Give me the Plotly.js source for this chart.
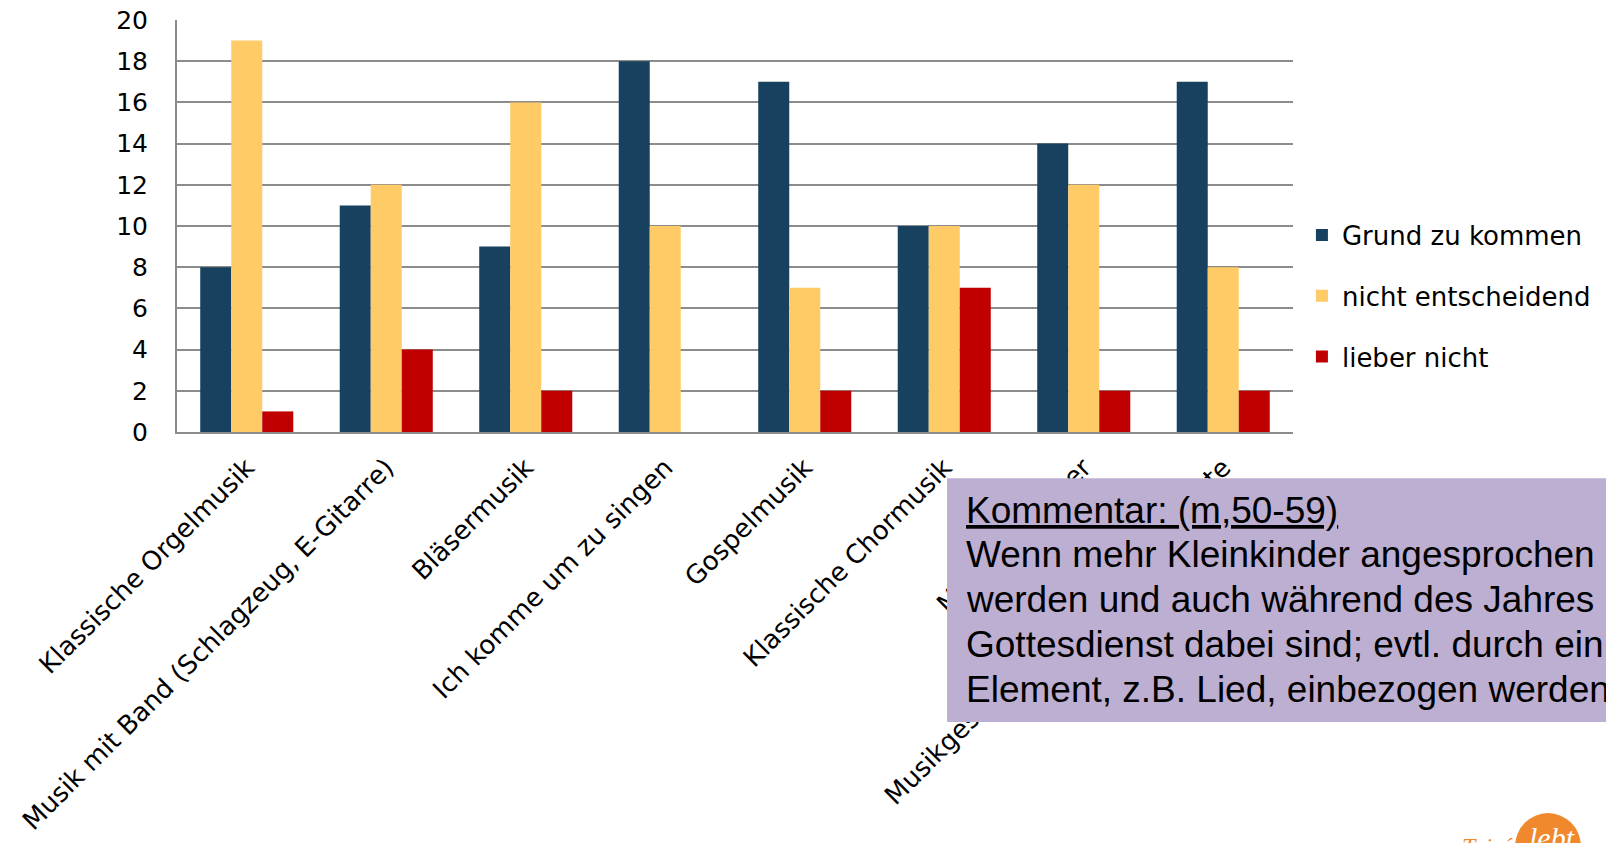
<!DOCTYPE html>
<html>
<head>
<meta charset="utf-8">
<script src="https://cdn.plot.ly/plotly-3.0.1.min.js"></script>
<style>
  html, body { margin: 0; padding: 0; overflow: hidden; background: #ffffff; }
  #chart { width: 1606px; height: 843px; }
</style>
</head>
<body>
<div id="chart"></div>
<script>
const categories = [
  "Klassische Orgelmusik",
  "Musik mit Band (Schlagzeug, E-Gitarre)",
  "Bläsermusik",
  "Ich komme um zu singen",
  "Gospelmusik",
  "Klassische Chormusik",
  "Musical-Theater",
  "Musikgestaltete Abendgottesdienste"
];
const seriesNames = ["Grund zu kommen", "nicht entscheidend", "lieber nicht"];
const grundZuKommen     = [8, 11, 9, 18, 17, 10, 14, 17];
const nichtEntscheidend = [19, 12, 16, 10, 7, 10, 12, 8];
const lieberNicht       = [1, 4, 2, 0, 2, 7, 2, 2];
const yTickValues = [0, 2, 4, 6, 8, 10, 12, 14, 16, 18, 20];
const commentTitle = "Kommentar: (m,50-59)";
const commentLines = [
  "Wenn mehr Kleinkinder angesprochen",
  "werden und auch während des Jahres",
  "Gottesdienst dabei sind; evtl. durch ein",
  "Element, z.B. Lied, einbezogen werden."
];

const colors = ["#17415E", "#FFCB66", "#C00000"];
const values = [grundZuKommen, nichtEntscheidend, lieberNicht];

const traces = values.map((v, i) => ({
  type: "bar",
  name: seriesNames[i],
  x: categories,
  y: v,
  legendgroup: "g" + i,
  marker: { color: colors[i], line: { width: 0 } },
  hoverinfo: "x+y+name"
}));

const axisFamily = "Verdana, 'DejaVu Sans', sans-serif";

// comment box text: one annotation per line for exact line spacing
const commentAll = ["<u>" + commentTitle + "</u>"].concat(commentLines);
const lineStep = 0.1085;
const commentAnnotations = commentAll.map((t, i) => ({
  xref: "paper", yref: "paper",
  x: 0.7055, y: -0.190 - i * lineStep,
  xanchor: "left", yanchor: "middle",
  align: "left", showarrow: false,
  text: t,
  font: { family: "Arial, 'Liberation Sans', sans-serif", size: 37, color: "#000000" }
}));

const layout = {
  width: 1606,
  height: 843,
  margin: { l: 177, r: 313, t: 20, b: 411, autoexpand: false },
  paper_bgcolor: "#ffffff",
  plot_bgcolor: "#ffffff",
  barmode: "group",
  bargap: 0.333,
  bargroupgap: 0,
  showlegend: true,
  legend: {
    x: 1.008, xanchor: "left",
    y: 0.535, yanchor: "top",
    font: { family: axisFamily, size: 26, color: "#000000" },
    tracegroupgap: 24,
    bgcolor: "rgba(0,0,0,0)"
  },
  xaxis: {
    type: "category",
    tickangle: -45,
    tickfont: { family: axisFamily, size: 26, color: "#000000" },
    showgrid: false,
    showline: true,
    linecolor: "#8c8c8c",
    linewidth: 2,
    ticks: "",
    ticklabelstandoff: 8,
    automargin: false
  },
  yaxis: {
    range: [0, 20],
    tickvals: yTickValues,
    tickfont: { family: axisFamily, size: 25, color: "#000000" },
    showgrid: true,
    gridcolor: "#8c8c8c",
    gridwidth: 2,
    showline: true,
    linecolor: "#8c8c8c",
    linewidth: 2,
    zeroline: false,
    ticks: "",
    ticklabelstandoff: 22,
    automargin: false
  },
  shapes: [
    {
      type: "rect", xref: "paper", yref: "paper", layer: "above",
      x0: 0.690, x1: 1.30, y0: -0.112, y1: -0.704,
      fillcolor: "#BDAFD1", line: { width: 0 }
    },
    {
      type: "circle", xref: "paper", yref: "paper", layer: "above",
      x0: 1.199, x1: 1.258, y0: -1.087, y1: -0.925,
      fillcolor: "#F0892E", line: { width: 0 }
    }
  ],
  annotations: commentAnnotations.concat([
    {
      xref: "paper", yref: "paper",
      x: 1.232, y: -0.985, xanchor: "center", yanchor: "middle",
      showarrow: false, text: "<i>lebt</i>",
      font: { family: "'Liberation Serif', serif", size: 30, color: "#ffffff" }
    },
    {
      xref: "paper", yref: "paper",
      x: 1.199, y: -1.005, xanchor: "right", yanchor: "middle",
      showarrow: false, text: "<i>Taizé</i>",
      font: { family: "'Liberation Serif', serif", size: 24, color: "#F0892E" }
    }
  ])
};

Plotly.newPlot("chart", traces, layout, { displayModeBar: false, responsive: false });
</script>
</body>
</html>
